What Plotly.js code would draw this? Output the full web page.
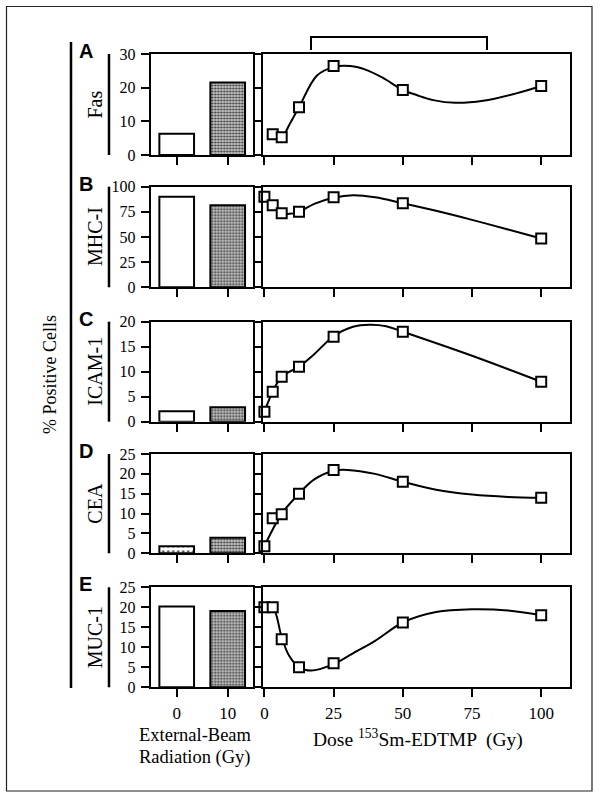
<!DOCTYPE html>
<html><head><meta charset="utf-8">
<script src="https://cdn.plot.ly/plotly-3.0.1.min.js"></script>
<style>html,body{margin:0;padding:0;background:#fff}#plot{width:601px;height:801px}</style>
</head><body><div id="plot"></div>
<script>
// ---- data ----
const panelLetters = ["A","B","C","D","E"];
const markerNames = ["Fas","MHC-I","ICAM-1","CEA","MUC-1"];
const barCategories = ["0","10"];           // external-beam dose (Gy)
const barFas   = [6.3, 21.5];
const barMHC   = [90, 81.5];
const barICAM  = [2.1, 2.9];
const barCEA   = [1.8, 3.9];
const barMUC   = [20.2, 19.1];

const doseAll  = [0, 3, 6.25, 12.5, 25, 50, 100];
const doseFas  = [3, 6.25, 12.5, 25, 50, 100];
const fasVals  = [6.2, 5.3, 14.2, 26.4, 19.3, 20.5];
const mhcVals  = [90, 81.5, 73.5, 75, 89.5, 83.5, 48.5];
const icamVals = [2, 6, 9, 11, 17, 18, 8];
const ceaVals  = [1.8, 8.8, 9.8, 15, 21, 18, 14];
const mucVals  = [20, 20, 12, 5, 6, 16.2, 18];

// fitted curves as drawn in the figure
const fasCurveX  = [3, 6.25, 9, 12.5, 19, 25, 31, 37, 43, 50, 55, 61, 69, 79, 91, 100];
const fasCurveY  = [6.2, 5.3, 9, 14.2, 23.6, 26.1, 26.4, 25.2, 22.8, 19.3, 17.8, 16.3, 15.5, 16.1, 18.3, 20.5];
const mhcCurveX  = [0, 3, 6.25, 9, 12.5, 18, 25, 32, 40, 50, 62, 75, 88, 100];
const mhcCurveY  = [90, 81.5, 74, 73, 75, 83, 89, 91.5, 89.5, 83.5, 76, 67, 57.5, 48.5];
const icamCurveX = [0, 3, 6.25, 12.5, 18, 25, 32, 38, 44, 50, 75, 100];
const icamCurveY = [2, 6, 9, 11, 13.5, 17.1, 19, 19.4, 19.1, 18, 13.2, 8];
const ceaCurveX  = [0, 3, 6.25, 12.5, 18, 25, 30, 40, 50, 62, 75, 88, 100];
const ceaCurveY  = [1.8, 6, 10, 15, 18.6, 20.8, 21, 20, 18, 16, 14.8, 14.2, 14];
const mucCurveX  = [0, 3, 6.25, 9, 12.5, 17, 25, 32, 40, 50, 62, 75, 88, 100];
const mucCurveY  = [20, 20, 12.5, 7.8, 5, 4.2, 5.8, 8.5, 11.6, 16.2, 18.8, 19.5, 19.2, 18];

const yMax   = [30, 100, 20, 25, 25];
const yDtick = [10, 25, 5, 5, 5];
const xTicks = [0, 25, 50, 75, 100];

// ---- layout helpers ----
const W = 601, H = 801;
const px = x => x / W, py = y => 1 - y / H;
const panelTop = [54, 186.7, 321.7, 454, 587.3];
const panelBot = [155, 287.3, 421.7, 553.3, 687.3];
const barDom  = [px(150.7), px(252.7)];
const lineDom = [px(263.3), px(570)];
const serif = "Liberation Serif, Times New Roman, serif";

const bars = [barFas, barMHC, barICAM, barCEA, barMUC];
const doses = [doseFas, doseAll, doseAll, doseAll, doseAll];
const vals = [fasVals, mhcVals, icamVals, ceaVals, mucVals];
const cx = [fasCurveX, mhcCurveX, icamCurveX, ceaCurveX, mucCurveX];
const cy = [fasCurveY, mhcCurveY, icamCurveY, ceaCurveY, mucCurveY];

const traces = [];
const layout = {
  width: W, height: H, margin: {l:0, r:0, t:0, b:0},
  paper_bgcolor: "#fff", plot_bgcolor: "#fff", showlegend: false,
  font: {family: serif, size: 16, color: "#000"},
  annotations: [], shapes: []
};

const axisBase = {
  showline: true, linecolor: "#000", linewidth: 2, mirror: true,
  ticks: "outside", ticklen: 8, tickwidth: 2, tickcolor: "#000",
  showgrid: false, zeroline: false, fixedrange: true,
  tickfont: {family: serif, size: 16, color: "#000"}
};

for (let i = 0; i < 5; i++) {
  const bx = 2*i + 1, lx = 2*i + 2;
  const dom = [py(panelBot[i]), py(panelTop[i])];
  const last = i === 4;
  layout["xaxis" + bx] = Object.assign({}, axisBase, {
    domain: barDom, anchor: "y" + bx, range: [-0.51, 1.49],
    tickvals: [0, 1], ticktext: barCategories, showticklabels: last, ticklabelstandoff: 1,
    tickfont: {family: serif, size: 17, color: "#000"}
  });
  layout["yaxis" + bx] = Object.assign({}, axisBase, {
    domain: dom, anchor: "x" + bx, range: [0, yMax[i]], dtick: yDtick[i], tick0: 0,
    ticklabelstandoff: 2
  });
  layout["xaxis" + lx] = Object.assign({}, axisBase, {
    domain: lineDom, anchor: "y" + lx, range: [-0.4, 110.4],
    tickvals: xTicks, showticklabels: last, ticklabelstandoff: 1,
    tickfont: {family: serif, size: 17, color: "#000"}
  });
  layout["yaxis" + lx] = Object.assign({}, axisBase, {
    domain: dom, anchor: "x" + lx, range: [0, yMax[i]], dtick: yDtick[i], tick0: 0,
    showticklabels: false
  });

  const xa = i === 0 ? "x" : "x" + bx, ya = i === 0 ? "y" : "y" + bx;
  // bars
  traces.push({
    type: "bar", x: [0], y: [bars[i][0]], xaxis: xa, yaxis: ya, width: 0.68,
    marker: i === 3
      ? {color: "#fff", line: {color: "#000", width: 2},
         pattern: {shape: ".", fgcolor: "#555", bgcolor: "#fff", size: 5, solidity: 0.2}}
      : {color: "#fff", line: {color: "#000", width: 2}},
    hoverinfo: "skip"
  });
  traces.push({
    type: "bar", x: [1], y: [bars[i][1]], xaxis: xa, yaxis: ya, width: 0.68,
    marker: {color: "#9a9a9a", line: {color: "#000", width: 2},
             pattern: {shape: ".", fgcolor: "#333", bgcolor: "#c4c4c4", size: 3, solidity: 0.4}},
    hoverinfo: "skip"
  });
  // curve
  traces.push({
    type: "scatter", mode: "lines", x: cx[i], y: cy[i], xaxis: "x" + lx, yaxis: "y" + lx,
    line: {color: "#000", width: 2, shape: "spline", smoothing: 1}, hoverinfo: "skip"
  });
  // points
  traces.push({
    type: "scatter", mode: "markers", x: doses[i], y: vals[i], xaxis: "x" + lx, yaxis: "y" + lx,
    cliponaxis: false,
    marker: {symbol: "square", size: 10, color: "#fff", line: {color: "#000", width: 2}}
  });

  // panel letter
  layout.annotations.push({
    xref: "paper", yref: "paper", x: px(77), y: py(panelTop[i] - 3), xanchor: "left", yanchor: "middle",
    text: "<b>" + panelLetters[i] + "</b>", showarrow: false,
    font: {family: "Liberation Sans, Arial, sans-serif", size: 20, color: "#000"}
  });
  // marker name
  layout.annotations.push({
    xref: "paper", yref: "paper", x: px(95), y: py((panelTop[i] + panelBot[i]) / 2),
    xanchor: "center", yanchor: "middle", textangle: -90,
    text: markerNames[i], showarrow: false, font: {family: serif, size: 20, color: "#000"}
  });
  // bar beside the name
  layout.shapes.push({
    type: "line", xref: "paper", yref: "paper",
    x0: px(109), x1: px(109), y0: py(panelTop[i]), y1: py(panelBot[i]),
    line: {color: "#000", width: 2.5}
  });
}

// long vertical line and overall label
layout.shapes.push({
  type: "line", xref: "paper", yref: "paper",
  x0: px(71), x1: px(71), y0: py(42), y1: py(688), line: {color: "#000", width: 2.5}
});
layout.annotations.push({
  xref: "paper", yref: "paper", x: px(50), y: py(375), xanchor: "center", yanchor: "middle",
  textangle: -90, text: "% Positive Cells", showarrow: false,
  font: {family: serif, size: 18, color: "#000"}
});
// bracket over the line panels
layout.shapes.push({
  type: "path", xref: "paper", yref: "paper",
  path: "M " + px(311) + "," + py(50) + " L " + px(311) + "," + py(37) +
        " L " + px(487) + "," + py(37) + " L " + px(487) + "," + py(50),
  line: {color: "#000", width: 2}
});
// outer frame
layout.shapes.push({
  type: "rect", xref: "paper", yref: "paper",
  x0: px(6.5), x1: px(592), y0: py(6.5), y1: py(791), line: {color: "#222", width: 1.2}
});
// axis titles
layout.annotations.push({
  xref: "paper", yref: "paper", x: px(137), y: py(735), xanchor: "left", yanchor: "middle",
  text: "External-Beam", showarrow: false,
  font: {family: serif, size: 18.5, color: "#000"}
});
layout.annotations.push({
  xref: "paper", yref: "paper", x: px(137), y: py(757), xanchor: "left", yanchor: "middle",
  text: "Radiation (Gy)", showarrow: false,
  font: {family: serif, size: 18.5, color: "#000"}
});
layout.annotations.push({
  xref: "paper", yref: "paper", x: px(418), y: py(738), xanchor: "center", yanchor: "middle",
  text: "Dose <sup>153</sup>Sm-EDTMP  (Gy)", showarrow: false,
  font: {family: serif, size: 19.5, color: "#000"}
});

Plotly.newPlot("plot", traces, layout, {staticPlot: true, displayModeBar: false});
</script></body></html>
